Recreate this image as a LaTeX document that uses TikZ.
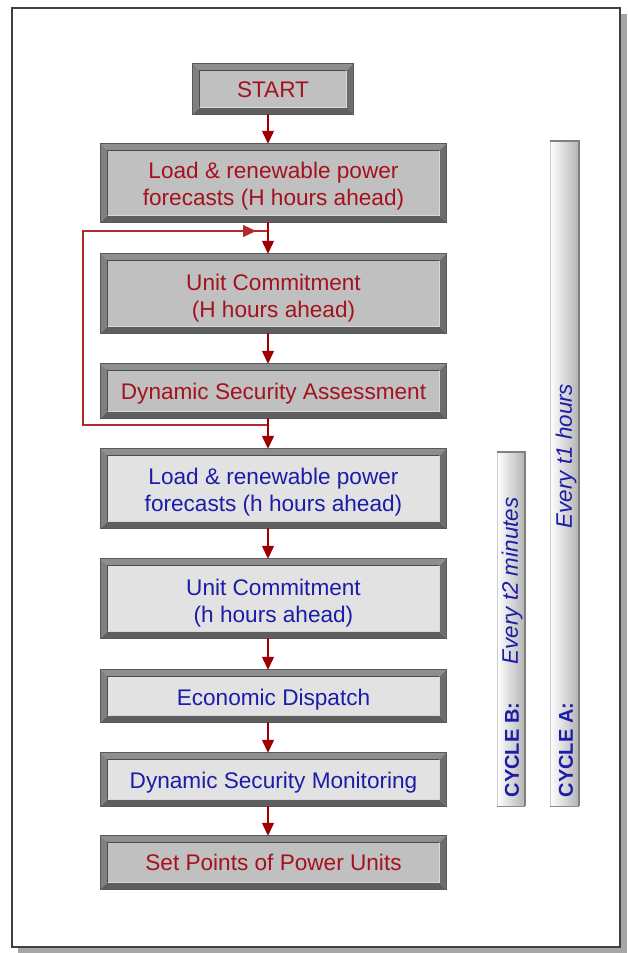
\documentclass[tikz,border=0pt]{standalone}
\usepackage{fontspec}
\setmainfont{Liberation Sans}
\usetikzlibrary{arrows.meta,calc}
\definecolor{tred}{HTML}{A3121E}
\definecolor{tblue}{HTML}{1C1CA8}
\definecolor{arrcol}{HTML}{A00000}
\definecolor{loopcol}{HTML}{B42A2A}
\definecolor{facedark}{HTML}{C0C0C0}
\definecolor{facelight}{HTML}{E2E2E2}
\definecolor{bvTc}{HTML}{8E8E8E}
\definecolor{bvLc}{HTML}{808080}
\definecolor{bvBc}{HTML}{5E5E5E}
\definecolor{bvRc}{HTML}{6C6C6C}
\newcommand{\boxtxt}[2][4pt]{\raisebox{-#1}[\height][\depth]{\begin{tabular}{@{}c@{}}#2\end{tabular}}}
\newcommand{\bevelbox}[1]{%
\fill[bvTc] (#1.north west) -- (#1.north east) -- ($(#1.north east)+(-7,7)$) -- ($(#1.north west)+(7,7)$) -- cycle;
\fill[bvLc] (#1.north west) -- ($(#1.north west)+(7,7)$) -- ($(#1.south west)+(7,-7)$) -- (#1.south west) -- cycle;
\fill[bvBc] (#1.south west) -- ($(#1.south west)+(7,-7)$) -- ($(#1.south east)+(-7,-7)$) -- (#1.south east) -- cycle;
\fill[bvRc] (#1.south east) -- ($(#1.south east)+(-7,-7)$) -- ($(#1.north east)+(-7,7)$) -- (#1.north east) -- cycle;
\draw[black!65,line width=0.9pt] (#1.north west) rectangle (#1.south east);
\draw[black!70,line width=0.8pt] ($(#1.south west)+(7,-7)$) -- ($(#1.north west)+(7,7)$) -- ($(#1.north east)+(-7,7)$);
\draw[white!85!black,line width=0.6pt] ($(#1.north east)+(-7,7)$) -- ($(#1.south east)+(-7,-7)$) -- ($(#1.south west)+(7,-7)$);
}
\begin{document}
\begin{tikzpicture}[x=1pt,y=-1pt,
  flowbox/.style={minimum width=345pt, inner sep=0pt,
    font=\fontsize{22.6}{27}\selectfont},
  darkbox/.style={flowbox, fill=facedark, text=tred},
  lightbox/.style={flowbox, fill=facelight, text=tblue},
  conn/.style={draw=arrcol, line width=1.3pt},
  arrowc/.style={conn, -{Triangle[length=13pt,width=12pt]}},
  loopline/.style={draw=loopcol, line width=1.2pt},
  barstyle/.style={left color=white, right color=black!30, draw=none, inner sep=0pt},
  barlabel/.style={rotate=90, text=tblue, inner sep=0pt},
]
\useasboundingbox (0,0) rectangle (627,953);
\fill[white] (0,0) rectangle (627,953);
% frame with shadow
\fill[black!35] (18,14) rectangle (627,953);
\fill[white] (12,8) rectangle (620,947);
\draw[black!75,line width=1.2pt] (12,8) rectangle (620,947);

% boxes
\node[darkbox, minimum width=160pt, minimum height=50pt] (start) at (273,89) {\boxtxt[3pt]{START}};
\node[darkbox, minimum height=78pt] (b1) at (273.5,183) {\boxtxt{Load \& renewable power\\forecasts (H hours ahead)}};
\node[darkbox, minimum height=79pt] (b2) at (273.5,293.5) {\boxtxt[5pt]{Unit Commitment\\ (H hours ahead)}};
\node[darkbox, minimum height=54pt] (b3) at (273.5,391) {\boxtxt[3pt]{Dynamic Security Assessment}};
\node[lightbox, minimum height=79pt] (b4) at (273.5,488.5) {\boxtxt{Load \& renewable power\\forecasts (h hours ahead)}};
\node[lightbox, minimum height=79pt] (b5) at (273.5,598.5) {\boxtxt[5pt]{Unit Commitment\\ (h hours ahead)}};
\node[lightbox, minimum height=52pt] (b6) at (273.5,696) {\boxtxt{Economic Dispatch}};
\node[lightbox, minimum height=53pt] (b7) at (273.5,779.5) {\boxtxt[4pt]{Dynamic Security Monitoring}};
\node[darkbox, minimum height=53pt] (b8) at (273.5,862.5) {\boxtxt[3pt]{Set Points of Power Units}};
\foreach \n in {start,b1,b2,b3,b4,b5,b6,b7,b8} {\bevelbox{\n}}

% connectors
\coordinate (ax) at (268,0);
\coordinate (j1) at (268,231);
\coordinate (j2) at (268,425);
\coordinate (l1) at (83,425);
\coordinate (l2) at (83,231);
\coordinate (tipA) at (256,231);
\draw[loopline] (j2) -- (l1) -- (l2) -- (j1);
\draw[loopline, -{Triangle[length=13pt,width=12pt]}] (l2) -- (tipA);
\draw[arrowc] (start.south -| ax) -- (b1.north -| ax);
\draw[arrowc] (b1.south -| ax) -- (b2.north -| ax);
\draw[arrowc] (b2.south -| ax) -- (b3.north -| ax);
\draw[arrowc] (b3.south -| ax) -- (b4.north -| ax);
\draw[arrowc] (b4.south -| ax) -- (b5.north -| ax);
\draw[arrowc] (b5.south -| ax) -- (b6.north -| ax);
\draw[arrowc] (b6.south -| ax) -- (b7.north -| ax);
\draw[arrowc] (b7.south -| ax) -- (b8.north -| ax);

% cycle bars
\node[barstyle, minimum width=29pt, minimum height=665pt] (barA) at (564.5,473.5) {};
\node[barstyle, minimum width=28pt, minimum height=354pt] (barB) at (511,629) {};
\foreach \b in {barA,barB} {
  \draw[black!20, line width=0.6pt] (\b.north west) -- (\b.south west);
  \draw[black!45, line width=1pt] (\b.south west) -- (\b.south east);
  \draw[black!50, line width=2pt] (\b.north west) -- (\b.north east) -- (\b.south east);
}
\node[barlabel, font=\fontsize{20}{24}\selectfont\bfseries] (cA) at (566,750) {CYCLE A:};
\node[barlabel, font=\fontsize{22.4}{26}\selectfont\itshape] (eA) at (566,456) {Every t1 hours};
\node[barlabel, font=\fontsize{20}{24}\selectfont\bfseries] (cB) at (512,750) {CYCLE B:};
\node[barlabel, font=\fontsize{22.4}{26}\selectfont\itshape] (eB) at (512,581) {Every t2 minutes};
\end{tikzpicture}
\end{document}
